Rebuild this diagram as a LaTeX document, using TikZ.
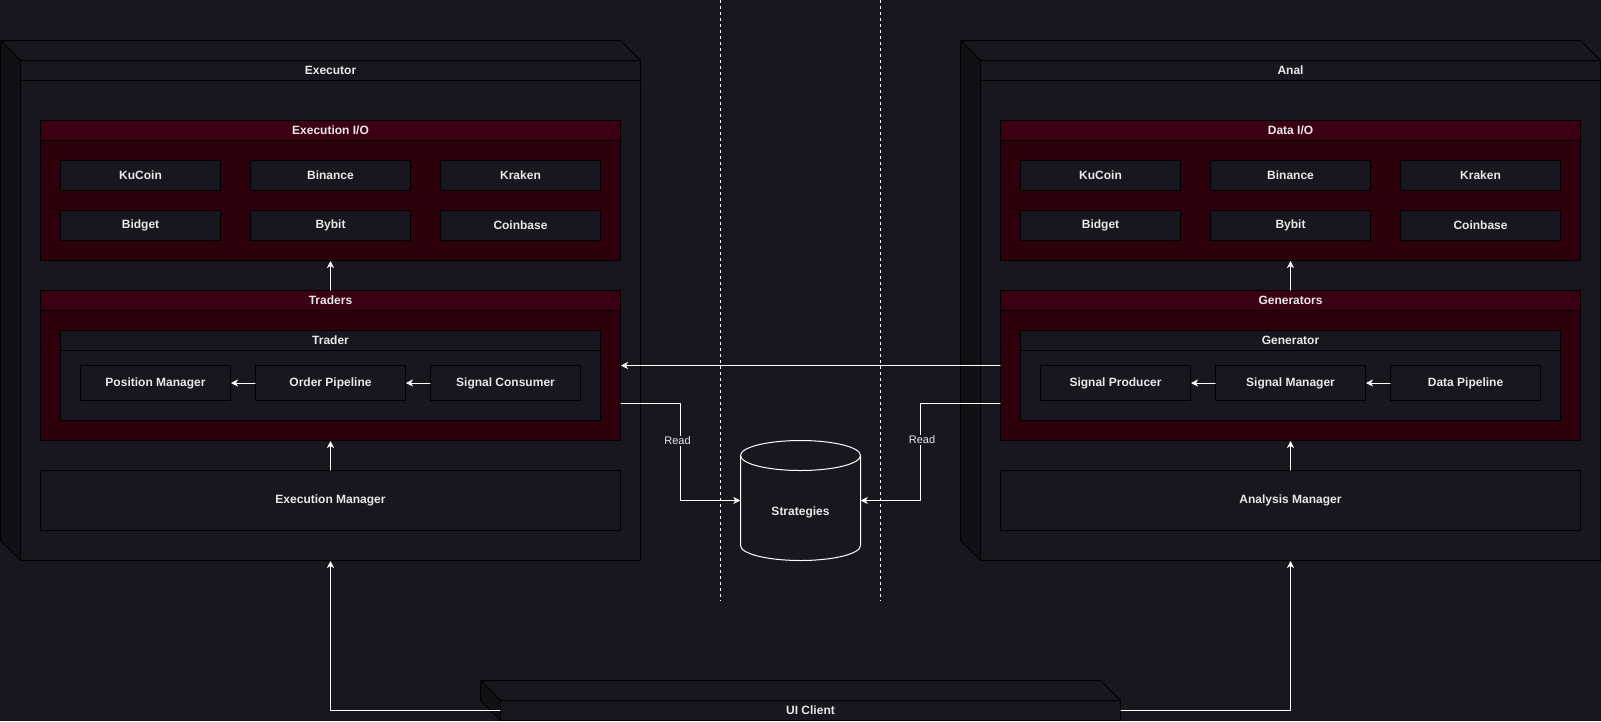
\documentclass[tikz,border=0pt]{standalone}
\usepackage{fontspec}
\setmainfont{Liberation Sans}
\usetikzlibrary{arrows.meta}
\definecolor{bgc}{HTML}{18161F}
\definecolor{sidec}{HTML}{111016}
\definecolor{grphd}{HTML}{3B0011}
\definecolor{grpbody}{HTML}{2D000B}
\definecolor{txtc}{HTML}{E8E8E8}

\begin{document}
\begin{tikzpicture}[line cap=round,line join=round,x=1pt,y=-1pt,>={Stealth[length=7pt,width=7pt,inset=2pt]},
	lbl/.style={text=txtc,font=\bfseries\fontsize{12}{14}\selectfont},
	face/.style={lbl,draw=black,line width=1pt,fill=bgc,inner sep=0pt},
	facehead/.style={face,minimum height=20pt,anchor=north},
	grp/.style={face,fill=grpbody},
	grphead/.style={face,fill=grphd,minimum height=20pt,anchor=north},
	cell/.style={face,minimum width=160pt,minimum height=30pt},
	unit/.style={face,minimum width=150pt,minimum height=35pt},
	flow/.style={->,draw=white,line width=1pt},
	tag/.style={fill=bgc,text=txtc,inner sep=1pt,font=\fontsize{11}{13}\selectfont},
	divider/.style={draw=white,line width=1pt,line cap=butt,dash pattern=on 3pt off 3pt}]
			\fill[bgc] (0,0) rectangle (1601,721);
			\useasboundingbox (0,0) rectangle (1601,721);
			%%%%%%%%%%%%%%% E X E C U T O R %%%%%%%%%%%%%%%%
			%box
			\draw [black,line width=1pt,fill=bgc] (0.5,40.5) -- (620.5,40.5) -- (640.5,60.5) -- (20.5,60.5) -- cycle;
			\draw [black,line width=1pt,fill=sidec] (0.5,40.5) -- (20.5,60.5) -- (20.5,560.5) -- (0.5,540.5) -- cycle;
			\node[face,minimum width=620pt,minimum height=500pt] (exec) at (330.5,310.5) {};
			\node[facehead,minimum width=620pt] (exechd) at (exec.north) {Executor};
			%execution io
			\node[grp,minimum width=580pt,minimum height=140pt] (exio) at (330.5,190.5) {};
			\node[grphead,minimum width=580pt] (exiohd) at (exio.north) {Execution I/O};
			\node[cell] (exkucoin) at (140.5,175.5) {KuCoin};
			\node[cell] (exbinance) at (330.5,175.5) {Binance};
			\node[cell] (exkraken) at (520.5,175.5) {Kraken};
			\node[cell] (exbidget) at (140.5,225.5) {Bidget};
			\node[cell] (exbybit) at (330.5,225.5) {Bybit};
			\node[cell] (excoinbase) at (520.5,225.5) {Coinbase};
			%traders
			\node[grp,minimum width=580pt,minimum height=150pt] (trs) at (330.5,365.5) {};
			\node[grphead,minimum width=580pt] (trshd) at (trs.north) {Traders};
			\node[face,minimum width=540pt,minimum height=90pt] (trd) at (330.5,375.5) {};
			\node[facehead,minimum width=540pt] (trdhd) at (trd.north) {Trader};
			\node[unit] (pm) at (155.5,383) {Position Manager};
			\node[unit] (op) at (330.5,383) {Order Pipeline};
			\node[unit] (sc) at (505.5,383) {Signal Consumer};
			%manager
			\node[face,minimum width=580pt,minimum height=60pt] (emgr) at (330.5,500.5) {Execution Manager};
			%%%%%%%%%%%%%%% A N A L %%%%%%%%%%%%%%%%
			%box
			\draw [black,line width=1pt,fill=bgc] (960.5,40.5) -- (1580.5,40.5) -- (1600.5,60.5) -- (980.5,60.5) -- cycle;
			\draw [black,line width=1pt,fill=sidec] (960.5,40.5) -- (980.5,60.5) -- (980.5,560.5) -- (960.5,540.5) -- cycle;
			\node[face,minimum width=620pt,minimum height=500pt] (anal) at (1290.5,310.5) {};
			\node[facehead,minimum width=620pt] (analhd) at (anal.north) {Anal};
			%data io
			\node[grp,minimum width=580pt,minimum height=140pt] (dio) at (1290.5,190.5) {};
			\node[grphead,minimum width=580pt] (diohd) at (dio.north) {Data I/O};
			\node[cell] (dkucoin) at (1100.5,175.5) {KuCoin};
			\node[cell] (dbinance) at (1290.5,175.5) {Binance};
			\node[cell] (dkraken) at (1480.5,175.5) {Kraken};
			\node[cell] (dbidget) at (1100.5,225.5) {Bidget};
			\node[cell] (dbybit) at (1290.5,225.5) {Bybit};
			\node[cell] (dcoinbase) at (1480.5,225.5) {Coinbase};
			%generators
			\node[grp,minimum width=580pt,minimum height=150pt] (gens) at (1290.5,365.5) {};
			\node[grphead,minimum width=580pt] (genshd) at (gens.north) {Generators};
			\node[face,minimum width=540pt,minimum height=90pt] (gen) at (1290.5,375.5) {};
			\node[facehead,minimum width=540pt] (genhd) at (gen.north) {Generator};
			\node[unit] (sp) at (1115.5,383) {Signal Producer};
			\node[unit] (sm) at (1290.5,383) {Signal Manager};
			\node[unit] (dp) at (1465.5,383) {Data Pipeline};
			%manager
			\node[face,minimum width=580pt,minimum height=60pt] (amgr) at (1290.5,500.5) {Analysis Manager};
			%%%%%%%%%%%%%%% S T R A T E G I E S %%%%%%%%%%%%%%%%
			\draw [divider] (720.5,0) -- (720.5,600.5);
			\draw [divider] (880.5,0) -- (880.5,600.5);
			\draw [white,line width=1pt,fill=bgc] (740.5,455.5) -- (740.5,545.5) arc[start angle=180,end angle=360,x radius=60pt,y radius=15pt] -- (860.5,455.5) arc[start angle=0,end angle=180,x radius=60pt,y radius=15pt] -- cycle;
			\draw [white,line width=1pt] (740.5,455.5) arc[start angle=180,end angle=360,x radius=60pt,y radius=15pt];
			\node[minimum width=120pt,minimum height=120pt,inner sep=0pt] (strat) at (800.5,500.5) {};
			\node[lbl] (stratlbl) at (800.5,512.5) {Strategies};
			%%%%%%%%%%%%%%% U I %%%%%%%%%%%%%%%%
			\draw [black,line width=1pt,fill=bgc] (480.5,680.5) -- (1100.5,680.5) -- (1120.5,700.5) -- (500.5,700.5) -- cycle;
			\draw [black,line width=1pt,fill=sidec] (480.5,680.5) -- (500.5,700.5) -- (500.5,720.5) -- (480.5,700.5) -- cycle;
			\node[face,minimum width=620pt,minimum height=20pt] (ui) at (810.5,710.5) {UI Client};
			%%%%%%%%%%%%%%% A R R O W S %%%%%%%%%%%%%%%%
			%executor
			\draw [flow] (trs.north) -- (exio.south);
			\draw [flow] (emgr.north) -- (trs.south);
			\draw [flow] (op.west) -- (pm.east);
			\draw [flow] (sc.west) -- (op.east);
			%anal
			\draw [flow] (gens.north) -- (dio.south);
			\draw [flow] (amgr.north) -- (gens.south);
			\draw [flow] (sm.west) -- (sp.east);
			\draw [flow] (dp.west) -- (sm.east);
			%between
			\draw [flow] (gens.west) -- (trs.east);
			\draw [flow] ([yshift=-37.5pt]trs.east) -- ++(59.5,0) |- node[tag,pos=0.195,xshift=-3pt] (readl) {Read} (strat.west);
			\draw [flow] ([yshift=-37.5pt]gens.west) -- ++(-80,0) |- node[tag,pos=0.19,xshift=2pt] (readr) {Read} (strat.east);
			%ui
			\draw [flow] (ui.west) -| (exec.south);
			\draw [flow] (ui.east) -| (anal.south);
		\end{tikzpicture}
\end{document}
